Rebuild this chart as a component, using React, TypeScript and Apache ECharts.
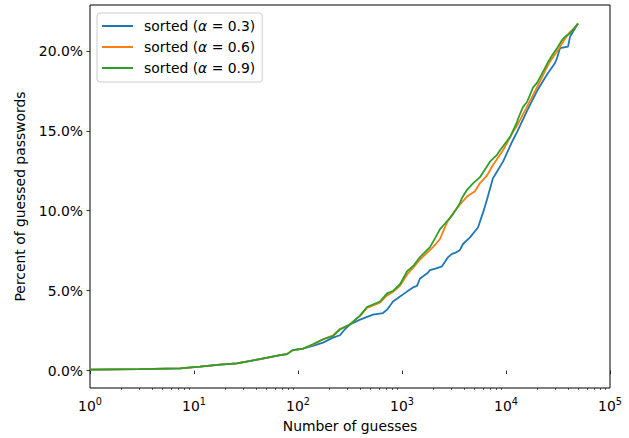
import React, { useEffect, useRef } from "react";
import * as echarts from "echarts";

const seriesNames = ["sorted (α = 0.3)", "sorted (α = 0.6)", "sorted (α = 0.9)"];
const seriesColors = ["#1f77b4", "#ff7f0e", "#2ca02c"];

// [number of guesses, percent of guessed passwords]
const alpha03: [number, number][] = [
  [1, 0.06], [2.97, 0.09], [7.36, 0.14], [11.4, 0.25], [17.8, 0.37], [25.9, 0.45],
  [43.1, 0.72], [67.2, 0.97], [78.6, 1.03], [89, 1.28], [112, 1.38], [139, 1.54],
  [174, 1.75], [217, 2.06], [253, 2.21], [284, 2.6], [316, 2.88], [395, 3.19],
  [526, 3.5], [657, 3.6], [718, 3.81], [820, 4.32], [957, 4.63], [1117, 4.94],
  [1275, 5.2], [1394, 5.3], [1490, 5.76], [1739, 6.07], [1859, 6.28], [2135, 6.4],
  [2424, 6.52], [2778, 7.1], [3027, 7.3], [3327, 7.4], [3612, 7.55], [3858, 7.92],
  [4507, 8.33], [5380, 8.95], [6011, 9.88], [6565, 10.7], [7501, 12.04], [7833, 12.24],
  [9361, 13.07], [11416, 14.3], [12763, 14.92], [15932, 16.25], [19859, 17.49],
  [24793, 18.52], [29602, 19.24], [30937, 19.55], [33050, 20.17], [39473, 20.27],
  [41254, 20.88], [45065, 21.3], [49257, 21.71],
];

const alpha06: [number, number][] = [
  [1, 0.06], [2.97, 0.09], [7.36, 0.14], [11.4, 0.25], [17.8, 0.37], [25.9, 0.45],
  [43.1, 0.72], [67.2, 0.97], [78.6, 1.05], [89, 1.27], [112, 1.38], [139, 1.62],
  [174, 1.95], [217, 2.2], [253, 2.6], [316, 2.9], [396, 3.42], [461, 3.92],
  [614, 4.25], [718, 4.7], [820, 4.92], [957, 5.3], [1117, 6.0], [1306, 6.5],
  [1490, 6.95], [1986, 7.72], [2319, 8.23], [2708, 9.26], [3144, 9.9], [3612, 10.39],
  [4242, 10.9], [5035, 11.22], [5622, 11.73], [6565, 12.2], [7501, 12.86], [9361, 13.78],
  [11678, 14.92], [13035, 15.43], [15030, 16.2], [17014, 16.87], [19086, 17.5],
  [21226, 18.1], [23581, 18.7], [26517, 19.34], [28965, 19.7], [31654, 20.06],
  [36308, 20.68], [41254, 21.19], [45065, 21.4], [49257, 21.71],
];

const alpha09: [number, number][] = [
  [1, 0.06], [2.97, 0.09], [7.36, 0.14], [11.4, 0.25], [17.8, 0.37], [25.9, 0.45],
  [43.1, 0.72], [67.2, 0.97], [78.6, 1.03], [89, 1.28], [112, 1.38], [139, 1.65],
  [174, 1.96], [217, 2.16], [253, 2.57], [316, 2.88], [396, 3.45], [461, 3.98],
  [614, 4.32], [718, 4.83], [820, 4.98], [957, 5.4], [1117, 6.2], [1306, 6.6],
  [1490, 7.1], [1859, 7.72], [2089, 8.3], [2319, 8.85], [2594, 9.2], [3093, 9.77],
  [3612, 10.49], [3776, 10.8], [4218, 11.31], [4789, 11.7], [5622, 12.1], [7011, 13.07],
  [8187, 13.5], [8763, 13.78], [10927, 14.61], [12763, 15.54], [13035, 15.74],
  [14578, 16.5], [15932, 16.8], [18185, 17.7], [19859, 18.0], [23131, 18.8],
  [25377, 19.3], [28311, 19.8], [30937, 20.17], [34583, 20.68], [37920, 20.95],
  [41254, 21.09], [45065, 21.4], [49257, 21.71],
];

const xMajorTicks = [1, 10, 100, 1000, 10000, 100000];
const xMinorTicks = [
  2, 3, 4, 5, 6, 7, 8, 9,
  20, 30, 40, 50, 60, 70, 80, 90,
  200, 300, 400, 500, 600, 700, 800, 900,
  2000, 3000, 4000, 5000, 6000, 7000, 8000, 9000,
  20000, 30000, 40000, 50000, 60000, 70000, 80000, 90000,
];
const yTicks = [0, 5, 10, 15, 20];

const FONT = "DejaVu Sans";
const FS = 13.9;

export default function App() {
  const ref = useRef<HTMLDivElement>(null);
  useEffect(() => {
    if (!ref.current) return;
    const chart = echarts.init(ref.current, null, { renderer: "svg" });
    const allData = [alpha03, alpha06, alpha09];
    chart.setOption({
      animation: false,
      backgroundColor: "#ffffff",
      textStyle: { fontFamily: FONT, color: "#000" },
      grid: {
        left: 90,
        right: 19,
        top: 5,
        bottom: 45.5,
        show: true,
        borderColor: "#000",
        borderWidth: 1,
        backgroundColor: "transparent",
      },
      legend: {
        orient: "vertical",
        left: 97,
        top: 13,
        itemWidth: 31,
        itemHeight: 2,
        itemGap: 7,
        icon: "rect",
        padding: [6, 7, 7, 5],
        backgroundColor: "rgba(255,255,255,0.8)",
        borderColor: "#cccccc",
        borderWidth: 1,
        borderRadius: 3,
        data: seriesNames,
        formatter: (name: string) => name.replace("α", "{i|α}"),
        textStyle: {
          fontFamily: FONT,
          fontSize: FS,
          color: "#000",
          lineHeight: 14,
          padding: [0, 0, 0, 6],
          rich: {
            i: { fontFamily: FONT, fontSize: FS, fontStyle: "italic", color: "#000", lineHeight: 14 },
          },
        },
      },
      xAxis: [
        {
          type: "log",
          logBase: 10,
          min: 1,
          max: 100000,
          name: "Number of guesses",
          nameLocation: "middle",
          nameGap: 31,
          nameTextStyle: { fontFamily: FONT, fontSize: FS, color: "#000" },
          axisLine: { show: false },
          splitLine: { show: false },
          axisTick: {
            show: true,
            length: 3.5,
            lineStyle: { color: "#000", width: 0.8 },
            customValues: xMajorTicks,
          },
          axisLabel: {
            customValues: xMajorTicks,
            margin: 8,
            formatter: (v: number) => `{b|10}{s|${Math.round(Math.log10(v))}}`,
            rich: {
              b: { fontFamily: FONT, fontSize: FS, color: "#000", lineHeight: 17, verticalAlign: "bottom" },
              s: { fontFamily: FONT, fontSize: 9.7, color: "#000", lineHeight: 10, verticalAlign: "top" },
            },
          },
        },
        {
          type: "log",
          logBase: 10,
          min: 1,
          max: 100000,
          gridIndex: 0,
          position: "bottom",
          axisLine: { show: false },
          splitLine: { show: false },
          axisLabel: { show: false },
          axisTick: {
            show: true,
            length: 2,
            lineStyle: { color: "#000", width: 0.6 },
            customValues: xMinorTicks,
          },
        },
      ],
      yAxis: {
        type: "value",
        min: -1.09,
        max: 22.87,
        name: "Percent of guessed passwords",
        nameLocation: "middle",
        nameGap: 63,
        nameRotate: 90,
        nameTextStyle: { fontFamily: FONT, fontSize: FS, color: "#000" },
        axisLine: { show: false },
        splitLine: { show: false },
        axisTick: {
          show: true,
          length: 3.5,
          lineStyle: { color: "#000", width: 0.8 },
          customValues: yTicks,
        },
        axisLabel: {
          customValues: yTicks,
          margin: 7,
          fontFamily: FONT,
          fontSize: FS,
          color: "#000",
          formatter: (v: number) => `${v.toFixed(1)}%`,
        },
      },
      series: allData.map((d, i) => ({
        name: seriesNames[i],
        type: "line",
        xAxisIndex: 0,
        data: d,
        symbol: "none",
        showSymbol: false,
        lineStyle: { color: seriesColors[i], width: 1.8 },
        itemStyle: { color: seriesColors[i] },
        z: 2 + i,
      })),
    });
    return () => chart.dispose();
  }, []);
  return (
    <div
      ref={ref}
      style={{ position: "fixed", left: 0, top: 0, width: 629, height: 438, background: "#fff" }}
    />
  );
}
